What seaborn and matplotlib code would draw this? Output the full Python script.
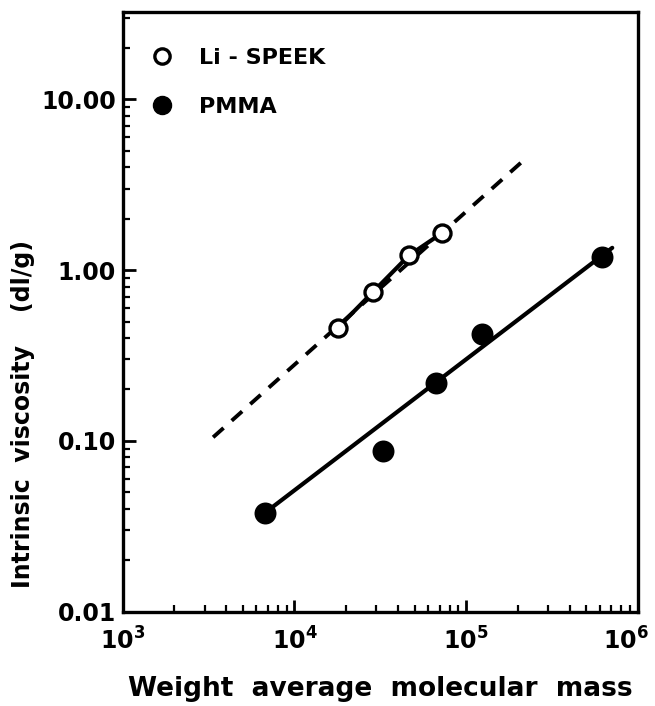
import numpy as np
import pandas as pd
import matplotlib
matplotlib.use("Agg")
import matplotlib.pyplot as plt
import matplotlib.transforms as mtransforms
import seaborn as sns
from matplotlib.lines import Line2D
from matplotlib.ticker import LogLocator, NullFormatter

# ---- data ----
speek_mw = [1.79e4, 2.85e4, 4.65e4, 7.18e4]
speek_iv = [0.46, 0.74, 1.22, 1.64]
speek_fit_mw = [3.36e3, 2.3e5]          # dashed extrapolation
speek_fit_iv = [0.105, 4.65]

pmma_mw = [6.75e3, 3.27e4, 6.65e4, 1.24e5, 6.18e5]
pmma_iv = [0.038, 0.0873, 0.217, 0.423, 1.19]
pmma_fit_mw = [6.75e3, 7.08e5]
pmma_fit_iv = [0.038, 1.35]

x_ticks = [1e3, 1e4, 1e5, 1e6]
x_ticklabels = [r"$\mathbf{10^{3}}$", r"$\mathbf{10^{4}}$", r"$\mathbf{10^{5}}$", r"$\mathbf{10^{6}}$"]
y_ticks = [0.01, 0.1, 1.0, 10.0]
y_ticklabels = ["0.01", "0.10", "1.00", "10.00"]
series_labels = ["Li - SPEEK", "PMMA"]

sns.set_theme(style="white")
plt.rcParams["font.family"] = ["DejaVu Sans"]
plt.rcParams["font.weight"] = "bold"
for k in ["text.color", "axes.labelcolor", "xtick.color", "ytick.color", "axes.edgecolor"]:
    plt.rcParams[k] = "black"

fig = plt.figure(figsize=(6.55, 7.06), dpi=100)
W, H = 655, 706
left, right, top, bottom = 122.7, 638.0, 12.0, 611.7
ax = fig.add_axes([left / W, 1 - bottom / H, (right - left) / W, (bottom - top) / H])

df_sf = pd.DataFrame({"mw": speek_fit_mw, "iv": speek_fit_iv})
df_pf = pd.DataFrame({"mw": pmma_fit_mw, "iv": pmma_fit_iv})
df_s = pd.DataFrame({"mw": speek_mw, "iv": speek_iv})
df_p = pd.DataFrame({"mw": pmma_mw, "iv": pmma_iv})

sns.lineplot(data=df_sf, x="mw", y="iv", ax=ax, color="black", lw=2.8, zorder=2)
ax.lines[-1].set_dashes([3.6, 2.8])
ax.lines[-1].set_dash_capstyle("butt")
sns.lineplot(data=df_s, x="mw", y="iv", ax=ax, color="black", lw=3.0, zorder=3)
sns.lineplot(data=df_pf, x="mw", y="iv", ax=ax, color="black", lw=3.0, zorder=3)

sns.scatterplot(data=df_s, x="mw", y="iv", ax=ax, marker="o", s=150,
                facecolor="white", edgecolor="black", linewidth=2.4, zorder=4)
sns.scatterplot(data=df_p, x="mw", y="iv", ax=ax, marker="o", s=250,
                color="black", edgecolor="black", linewidth=0, zorder=4)

ax.set_xscale("log")
ax.set_yscale("log")
ax.set_xlim(1e3, 1e6)
ax.set_ylim(0.01, 10 ** 1.511)

ax.set_xticks(x_ticks)
ax.set_xticklabels(x_ticklabels)
ax.set_yticks(y_ticks)
ax.set_yticklabels(y_ticklabels)
ax.xaxis.set_minor_locator(LogLocator(base=10, subs=np.arange(2, 10)))
ax.yaxis.set_minor_locator(LogLocator(base=10, subs=np.arange(2, 10)))
ax.xaxis.set_minor_formatter(NullFormatter())
ax.yaxis.set_minor_formatter(NullFormatter())

ax.tick_params(axis="both", which="major", direction="in", length=9, width=2,
               labelsize=17, bottom=True, left=True, top=False, right=False)
ax.tick_params(axis="x", which="major", pad=11)
ax.tick_params(axis="y", which="major", pad=5)
ax.tick_params(axis="both", which="minor", direction="in", length=5, width=1.6,
               bottom=True, left=True, top=False, right=False)
for lab in ax.get_yticklabels():
    lab.set_fontweight("bold")
xt = ax.get_xticklabels()
xt[-1].set_transform(xt[-1].get_transform() +
                     mtransforms.ScaledTranslation(-12 / 100, 0, fig.dpi_scale_trans))

for sp in ax.spines.values():
    sp.set_linewidth(2.4)

ax.set_xlabel("Weight  average  molecular  mass", fontsize=19, fontweight="bold")
ax.xaxis.set_label_coords(0.5, -0.108)
ax.set_ylabel("Intrinsic  viscosity    (dl/g)", fontsize=17, fontweight="bold")
ax.yaxis.set_label_coords(-0.17, 0.33)

handles = [
    Line2D([], [], ls="none", marker="o", markersize=11, markerfacecolor="white",
           markeredgecolor="black", markeredgewidth=2.4),
    Line2D([], [], ls="none", marker="o", markersize=13, markerfacecolor="black",
           markeredgecolor="black"),
]
leg = ax.legend(handles, series_labels, loc="upper left",
                bbox_to_anchor=(0.054, 0.94), frameon=False, borderpad=0,
                borderaxespad=0, handlelength=1.0, handletextpad=1.2,
                labelspacing=1.3, prop={"size": 16, "weight": "bold"})

fig.savefig("out.png", dpi=100, facecolor="white")
